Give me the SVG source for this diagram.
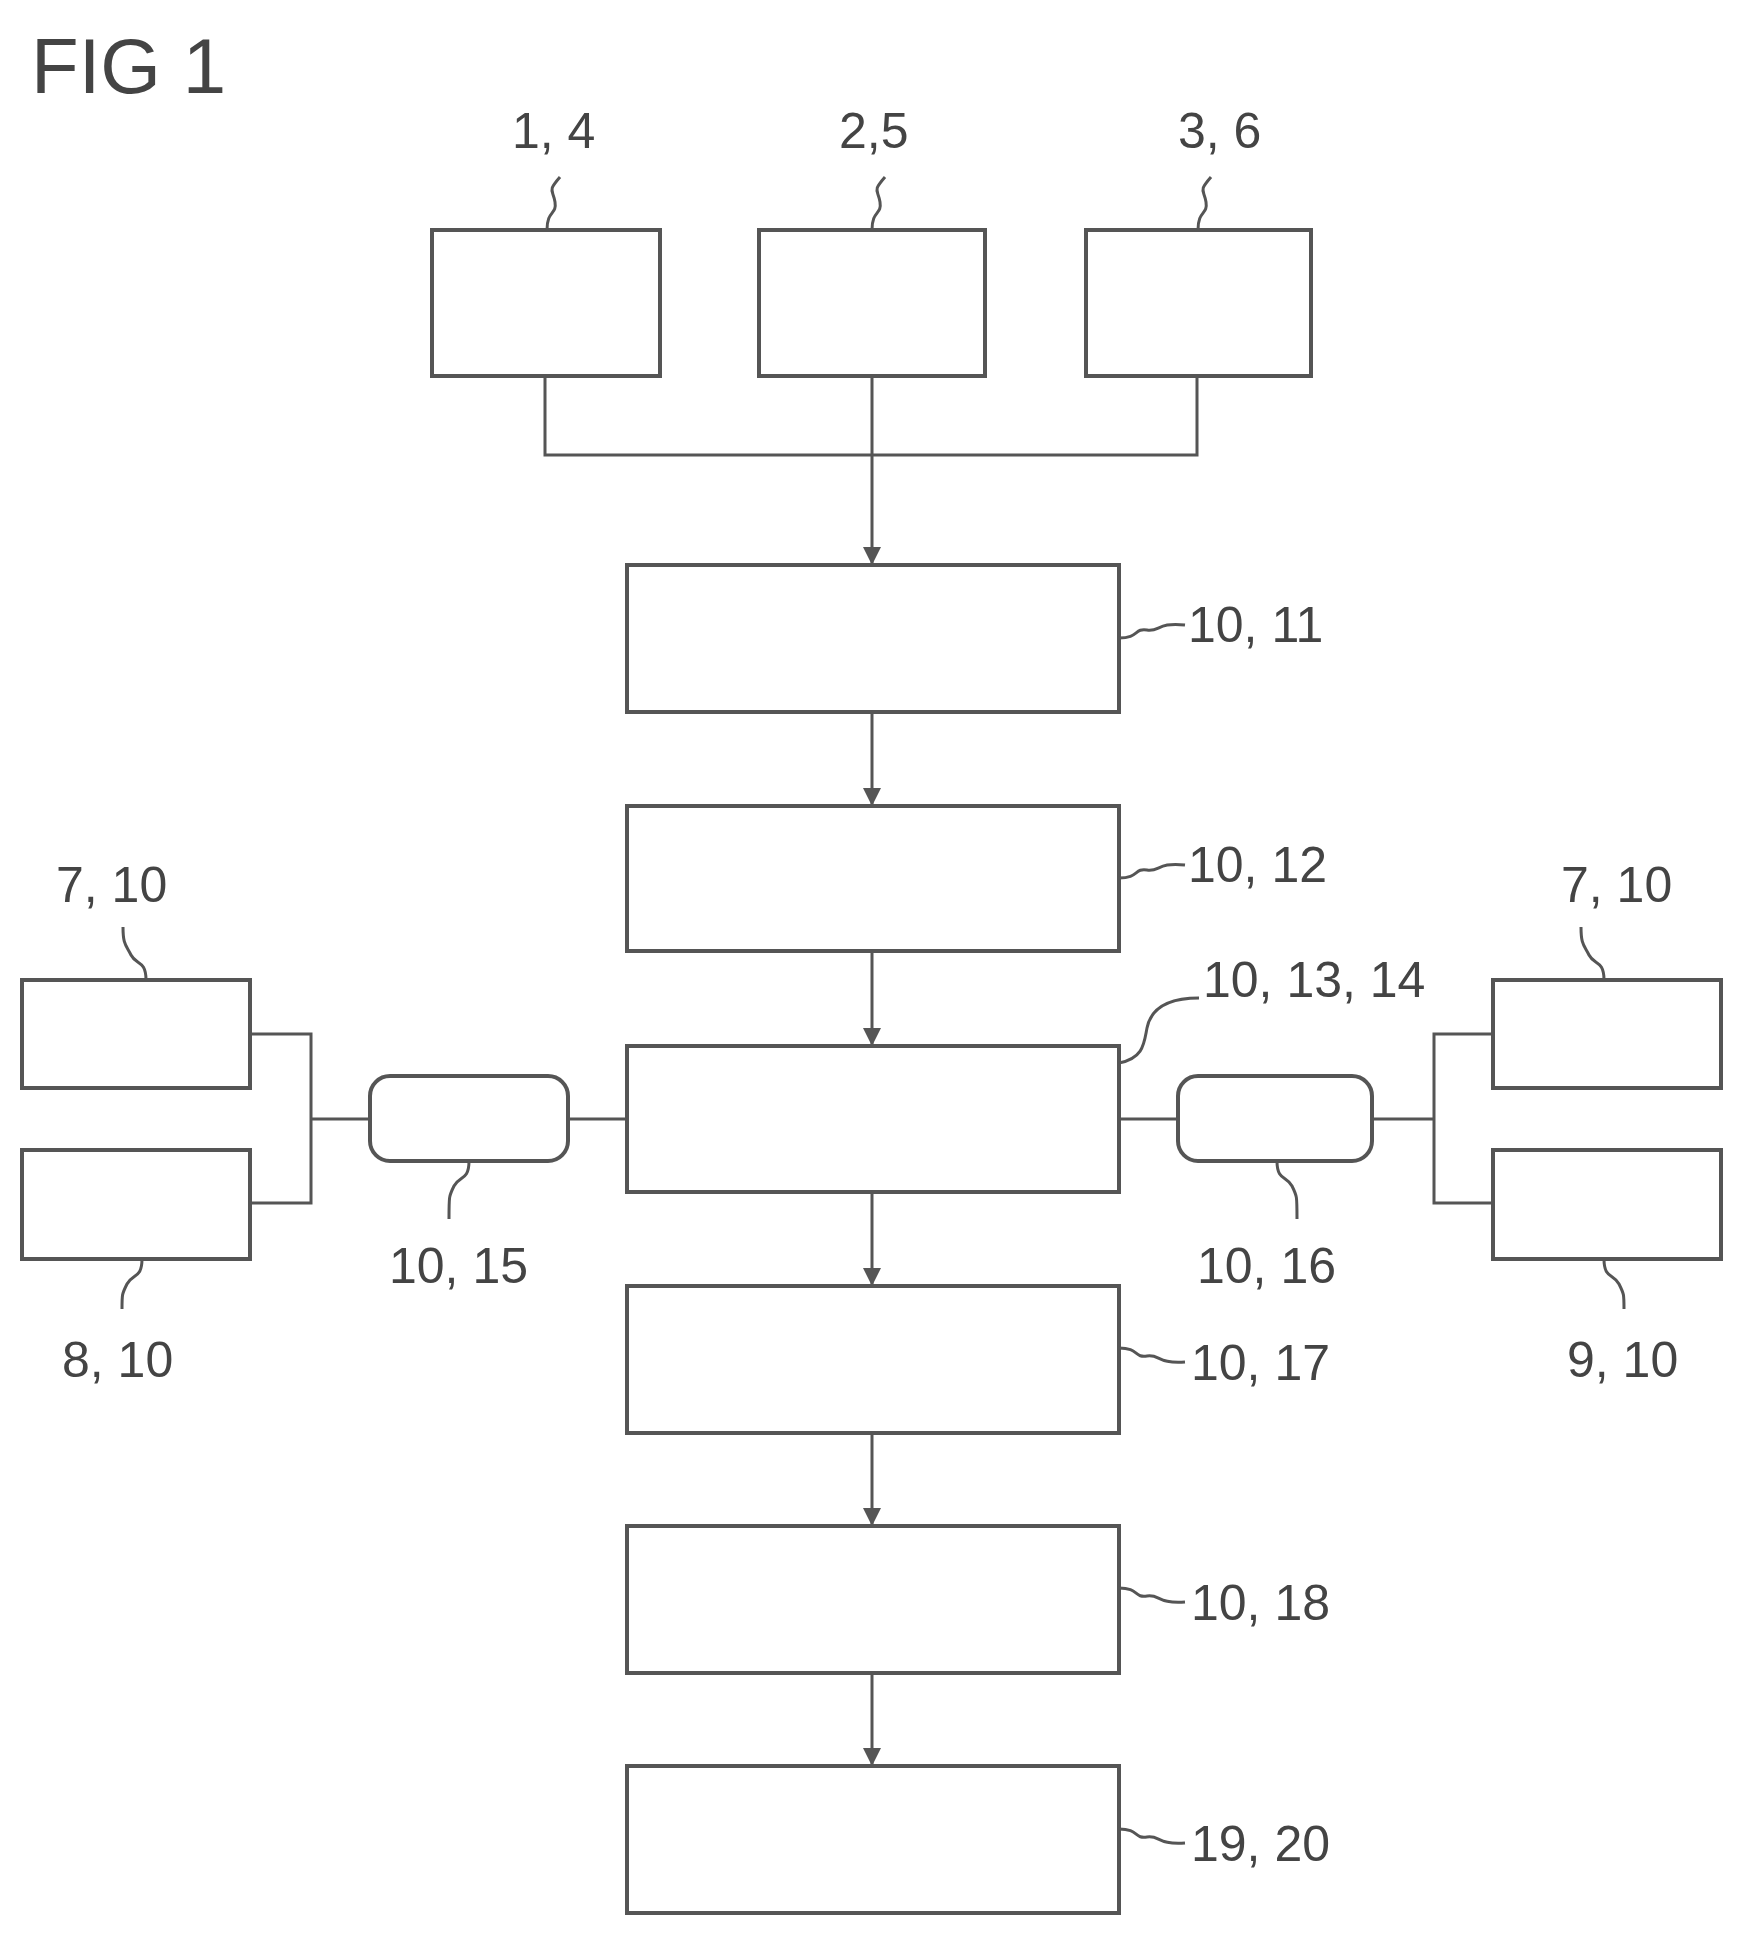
<svg xmlns="http://www.w3.org/2000/svg" width="1742" height="1935" viewBox="0 0 1742 1935">
<style>
.b{fill:#fff;stroke:#555;stroke-width:4}
.l{fill:none;stroke:#555;stroke-width:3}
.t{font-family:"Liberation Sans",Arial,sans-serif;font-size:50px;fill:#444}
</style>
<defs><marker id="a" viewBox="0 0 10 10" refX="10" refY="5" markerWidth="7" markerHeight="6" orient="auto" markerUnits="strokeWidth"><path d="M0,0L10,5L0,10z" fill="#555"/></marker></defs>
<rect width="1742" height="1935" fill="#fff"/>
<text x="31" y="93" class="t" style="font-size:78px">FIG 1</text>
<g id="connectors">
<path class="l" d="M545,376V455H1197V376M872,376V565" marker-end="url(#a)"/>
<path class="l" d="M872,712V806" marker-end="url(#a)"/>
<path class="l" d="M872,951V1046" marker-end="url(#a)"/>
<path class="l" d="M872,1192V1286" marker-end="url(#a)"/>
<path class="l" d="M872,1433V1526" marker-end="url(#a)"/>
<path class="l" d="M872,1673V1766" marker-end="url(#a)"/>
<path class="l" d="M250,1034H311V1203H250M311,1119H370M568,1119H627"/>
<path class="l" d="M1119,1119H1178M1372,1119H1434M1493,1034H1434V1203H1493"/>
</g>
<g id="n1"><rect class="b" x="432" y="230" width="228" height="146"/><text class="t" x="512" y="148">1, 4</text><path class="l" d="M547,230c0,-20 10,-15 8,-28s-8,-10 5,-25"/></g>
<g id="n2"><rect class="b" x="759" y="230" width="226" height="146"/><text class="t" x="839" y="148">2,5</text><path class="l" d="M872,230c0,-20 10,-15 8,-28s-8,-10 5,-25"/></g>
<g id="n3"><rect class="b" x="1086" y="230" width="225" height="146"/><text class="t" x="1178" y="148">3, 6</text><path class="l" d="M1198,230c0,-20 10,-15 8,-28s-8,-10 5,-25"/></g>
<g id="n11"><rect class="b" x="627" y="565" width="492" height="147"/><text class="t" x="1188" y="642">10, 11</text><path class="l" d="M1119,638c20,0 15,-10 28,-8s10,-8 38,-5"/></g>
<g id="n12"><rect class="b" x="627" y="806" width="492" height="145"/><text class="t" x="1188" y="882">10, 12</text><path class="l" d="M1119,878c20,0 15,-10 28,-8s10,-8 38,-5"/></g>
<g id="n13"><rect class="b" x="627" y="1046" width="492" height="146"/><text class="t" x="1203" y="997">10, 13, 14</text><path class="l" d="M1119,1063c25,-5 25,-20 28,-35s15,-30 52,-30"/></g>
<g id="n17"><rect class="b" x="627" y="1286" width="492" height="147"/><text class="t" x="1191" y="1380">10, 17</text><path class="l" d="M1119,1348c20,0 15,10 28,8s10,8 38,6"/></g>
<g id="n18"><rect class="b" x="627" y="1526" width="492" height="147"/><text class="t" x="1191" y="1620">10, 18</text><path class="l" d="M1119,1588c20,0 15,10 28,8s10,8 38,6"/></g>
<g id="n20"><rect class="b" x="627" y="1766" width="492" height="147"/><text class="t" x="1191" y="1861">19, 20</text><path class="l" d="M1119,1829c20,0 15,10 28,8s10,8 38,6"/></g>
<g id="l7"><rect class="b" x="22" y="980" width="228" height="108"/><text class="t" x="56" y="902">7, 10</text><path class="l" d="M146,980c0,-20 -10,-15 -15,-25s-8,-10 -8,-28"/></g>
<g id="l8"><rect class="b" x="22" y="1150" width="228" height="109"/><text class="t" x="62" y="1377">8, 10</text><path class="l" d="M142,1259c0,20 -10,15 -15,25s-5,10 -5,25"/></g>
<g id="n15"><rect class="b" x="370" y="1076" width="198" height="85" rx="20"/><text class="t" x="389" y="1283">10, 15</text><path class="l" d="M469,1161c0,20 -10,15 -15,25s-5,10 -5,33"/></g>
<g id="n16"><rect class="b" x="1178" y="1076" width="194" height="85" rx="20"/><text class="t" x="1197" y="1283">10, 16</text><path class="l" d="M1277,1161c0,20 10,15 15,25s5,10 5,33"/></g>
<g id="r7"><rect class="b" x="1493" y="980" width="228" height="108"/><text class="t" x="1561" y="902">7, 10</text><path class="l" d="M1604,980c0,-20 -10,-15 -15,-25s-8,-10 -8,-28"/></g>
<g id="r9"><rect class="b" x="1493" y="1150" width="228" height="109"/><text class="t" x="1567" y="1377">9, 10</text><path class="l" d="M1604,1259c0,20 10,15 15,25s5,10 5,25"/></g>
</svg>
